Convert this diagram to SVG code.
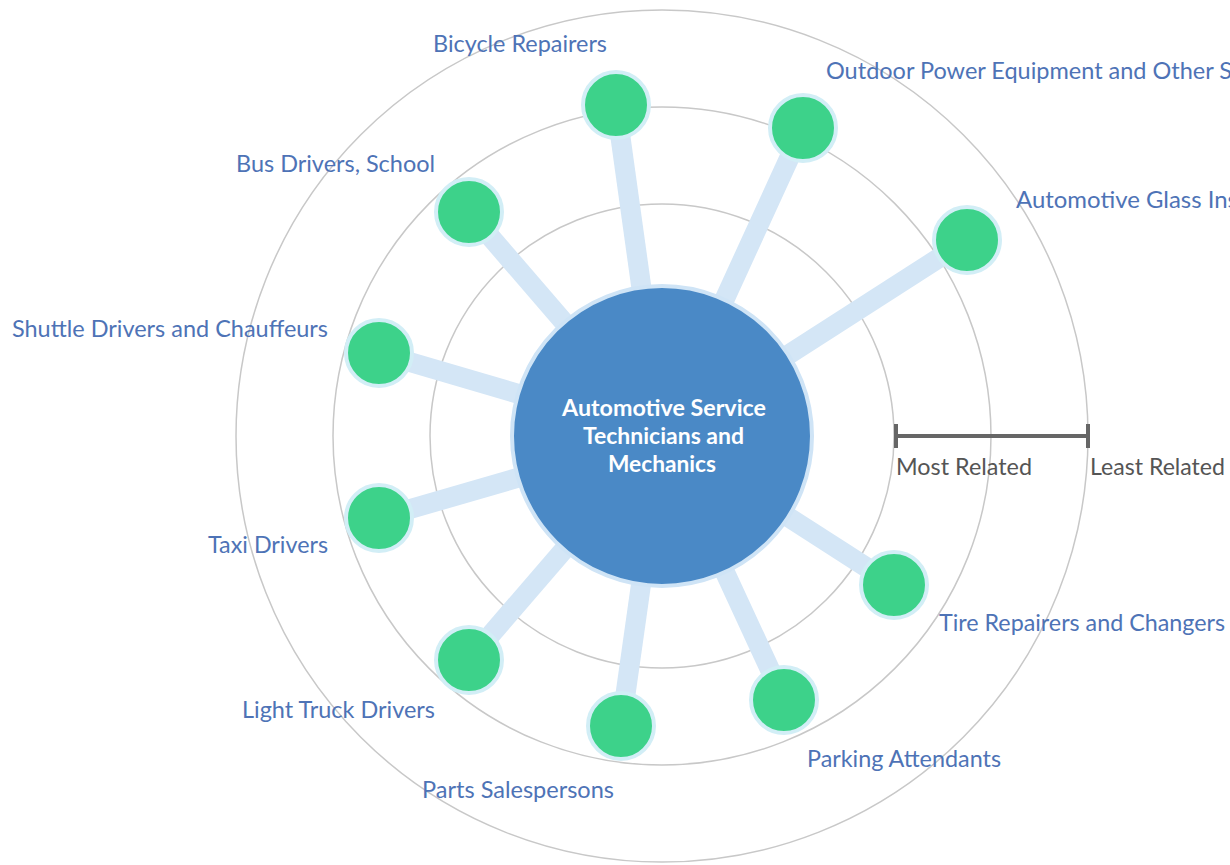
<svg xmlns="http://www.w3.org/2000/svg" width="1230" height="865" viewBox="0 0 1230 865">
<style>
.ring{fill:none;stroke:#c8c8c8;stroke-width:1.5}
.spoke{stroke:#d4e6f6;stroke-width:20;stroke-linecap:butt}
.node{fill:#3dd28a;stroke:#d2eef6;stroke-width:4}
.lbl{font-family:Lato,"Open Sans","Liberation Sans",sans-serif;font-size:23px;fill:#4e73b6}
.ctr{font-family:Lato,"Open Sans","Liberation Sans",sans-serif;font-size:22px;font-weight:bold;fill:#ffffff}
.scl{font-family:Lato,"Open Sans","Liberation Sans",sans-serif;font-size:23px;fill:#555555}
</style>
<rect width="1230" height="865" fill="#ffffff"/>
<g id="rings">
<circle class="ring" cx="662" cy="436" r="232"/>
<circle class="ring" cx="662" cy="436" r="329"/>
<circle class="ring" cx="662" cy="436" r="426"/>
</g>
<g id="connectors">
<line class="spoke" x1="662" y1="436" x2="616" y2="105"/>
<line class="spoke" x1="662" y1="436" x2="803" y2="128"/>
<line class="spoke" x1="662" y1="436" x2="967" y2="240"/>
<line class="spoke" x1="662" y1="436" x2="469" y2="212"/>
<line class="spoke" x1="662" y1="436" x2="379" y2="353"/>
<line class="spoke" x1="662" y1="436" x2="379" y2="518"/>
<line class="spoke" x1="662" y1="436" x2="469" y2="660"/>
<line class="spoke" x1="662" y1="436" x2="621" y2="726"/>
<line class="spoke" x1="662" y1="436" x2="784" y2="700"/>
<line class="spoke" x1="662" y1="436" x2="894" y2="585"/>
</g>
<g id="center">
<circle cx="662" cy="436" r="150" fill="#4a89c6" stroke="#cfe4f6" stroke-width="4"/>
<text class="ctr" x="562" y="416" textLength="204" lengthAdjust="spacingAndGlyphs">Automotive Service</text>
<text class="ctr" x="583" y="444" textLength="161" lengthAdjust="spacingAndGlyphs">Technicians and</text>
<text class="ctr" x="608" y="472" textLength="108" lengthAdjust="spacingAndGlyphs">Mechanics</text>
</g>
<g id="n-bicycle"><circle class="node" cx="616" cy="105" r="33"/><text class="lbl" x="433" y="52" textLength="174" lengthAdjust="spacingAndGlyphs">Bicycle Repairers</text></g>
<g id="n-outdoor"><circle class="node" cx="803" cy="128" r="33"/><text class="lbl" x="826" y="79" textLength="406" lengthAdjust="spacingAndGlyphs">Outdoor Power Equipment and Other S</text></g>
<g id="n-glass"><circle class="node" cx="967" cy="240" r="33"/><text class="lbl" x="1016" y="208" textLength="222" lengthAdjust="spacingAndGlyphs">Automotive Glass Ins</text></g>
<g id="n-bus"><circle class="node" cx="469" cy="212" r="33"/><text class="lbl" x="236" y="172" textLength="199" lengthAdjust="spacingAndGlyphs">Bus Drivers, School</text></g>
<g id="n-shuttle"><circle class="node" cx="379" cy="353" r="33"/><text class="lbl" x="12" y="337" textLength="316" lengthAdjust="spacingAndGlyphs">Shuttle Drivers and Chauffeurs</text></g>
<g id="n-taxi"><circle class="node" cx="379" cy="518" r="33"/><text class="lbl" x="208" y="553" textLength="120" lengthAdjust="spacingAndGlyphs">Taxi Drivers</text></g>
<g id="n-truck"><circle class="node" cx="469" cy="660" r="33"/><text class="lbl" x="242" y="718" textLength="193" lengthAdjust="spacingAndGlyphs">Light Truck Drivers</text></g>
<g id="n-parts"><circle class="node" cx="621" cy="726" r="33"/><text class="lbl" x="422" y="798" textLength="192" lengthAdjust="spacingAndGlyphs">Parts Salespersons</text></g>
<g id="n-parking"><circle class="node" cx="784" cy="700" r="33"/><text class="lbl" x="807" y="767" textLength="194" lengthAdjust="spacingAndGlyphs">Parking Attendants</text></g>
<g id="n-tire"><circle class="node" cx="894" cy="585" r="33"/><text class="lbl" x="939" y="631" textLength="286" lengthAdjust="spacingAndGlyphs">Tire Repairers and Changers</text></g>
<g id="scale">
<line x1="894" y1="436" x2="1089" y2="436" stroke="#666666" stroke-width="4"/>
<line x1="896" y1="424" x2="896" y2="448" stroke="#666666" stroke-width="4"/>
<line x1="1088" y1="424" x2="1088" y2="448" stroke="#666666" stroke-width="4"/>
<text class="scl" x="896" y="475" textLength="136" lengthAdjust="spacingAndGlyphs">Most Related</text>
<text class="scl" x="1090" y="475" textLength="135" lengthAdjust="spacingAndGlyphs">Least Related</text>
</g>
</svg>
